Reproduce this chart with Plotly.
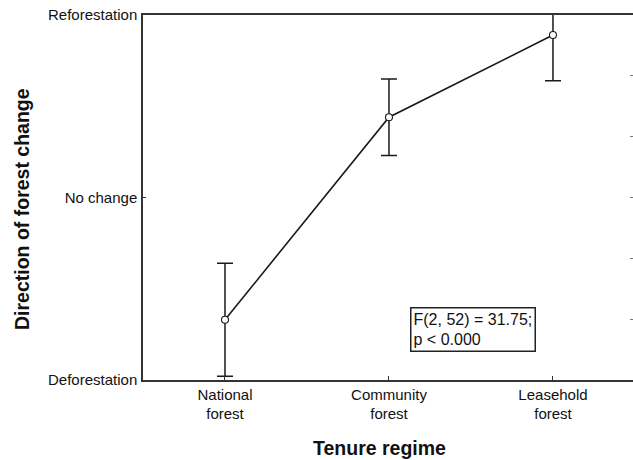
import plotly.graph_objects as go

categories = ["National<br>forest", "Community<br>forest", "Leasehold<br>forest"]
means = [-0.67, 0.44, 0.89]
errors = [0.31, 0.21, 0.25]
ytick_vals = [-1, 0, 1]
ytick_text = ["Deforestation", "No change", "Reforestation"]

W, H = 633, 460
ml, mt, mb, mr = 143, 15, 80, 0
PW, PH = 490, 365
font = "Liberation Sans, Arial, sans-serif"

fig = go.Figure()
fig.add_trace(go.Scatter(
    x=[0, 1, 2], y=means, mode="lines+markers",
    line=dict(color="#1a1a1a", width=1.6),
    marker=dict(symbol="circle", size=7, color="white", line=dict(color="#1a1a1a", width=1.1)),
    error_y=dict(type="data", array=errors, visible=True, color="#1a1a1a", thickness=1.5, width=8),
    cliponaxis=True, showlegend=False,
))
# invisible trace for right axis minor ticks
fig.add_trace(go.Scatter(x=[0], y=[0], yaxis="y2", mode="markers",
                         marker=dict(opacity=0), showlegend=False, hoverinfo="skip"))

fig.update_layout(
    width=W, height=H, margin=dict(l=ml, r=mr, t=mt, b=mb),
    paper_bgcolor="white", plot_bgcolor="white",
    font=dict(family=font, size=15, color="#111"),
    xaxis=dict(range=[-0.5, 2.488], tickvals=[0, 1, 2], ticktext=categories,
               showline=True, linecolor="#333", linewidth=1.5, mirror=True,
               ticks="inside", ticklen=4, tickcolor="#333", showgrid=False, zeroline=False,
               tickfont=dict(size=15)),
    yaxis=dict(range=[-1, 1], tickvals=ytick_vals, ticktext=ytick_text,
               showline=True, linecolor="#333", linewidth=1.5,
               ticks="inside", ticklen=3, tickcolor="#333", showgrid=False, zeroline=False,
               tickfont=dict(size=15), ticklabelstandoff=1),
    yaxis2=dict(range=[-1, 1], overlaying="y", side="right", tickvals=[-2/3, -1/3, 0, 1/3, 2/3],
                showticklabels=False, ticks="inside", ticklen=3, tickcolor="#777",
                showline=False, showgrid=False, zeroline=False),
    annotations=[
        dict(text="<b>Direction of forest change</b>", xref="paper", yref="paper",
             x=-(ml - 22) / PW, y=(380 - 209) / PH, xanchor="center", yanchor="middle", textangle=-90,
             showarrow=False, font=dict(size=19.5, color="#111")),
        dict(text="<b>Tenure regime</b>", xref="paper", yref="paper",
             x=(379 - ml) / PW, y=-(448 - 380) / PH, xanchor="center", yanchor="middle",
             showarrow=False, font=dict(size=19.5, color="#111")),
        dict(text="F(2, 52) = 31.75;<br>p < 0.000", xref="paper", yref="paper",
             x=(410 - ml) / PW, y=(380 - 307) / PH, xanchor="left", yanchor="top",
             align="left", showarrow=False, bordercolor="#222", borderwidth=1.5, borderpad=2,
             bgcolor="white", font=dict(size=16, color="#111")),
    ],
)
fig.write_html("out.html")
